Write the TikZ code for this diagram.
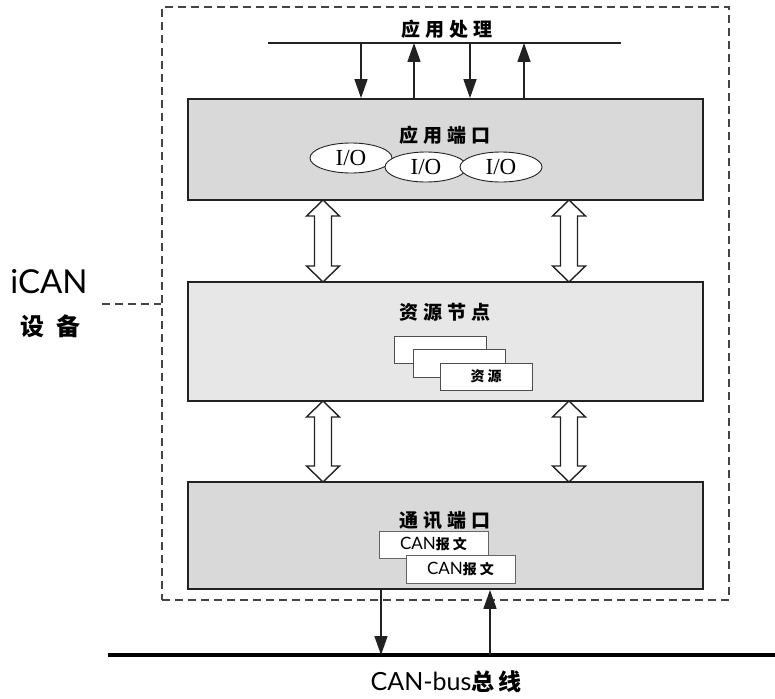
\documentclass[tikz,border=0pt]{standalone}
\usepackage{fontspec}
\setmainfont{Liberation Serif}
\newfontfamily\cjk{Noto Sans CJK SC}
\newfontfamily\lat{Lato}
\usetikzlibrary{arrows.meta,shapes.geometric}
\definecolor{boxA}{HTML}{D9D9D9}
\definecolor{boxB}{HTML}{E7E7E7}
\definecolor{lineC}{HTML}{222222}
\definecolor{dashC}{HTML}{444444}
\newcommand\gp{\hspace{5pt}}
\newcommand\dblarr[3]{%
  \draw[dblar] (#1,#2) -- ++(16.5,16) -- ++(-8,0) -- (#1+8.5,#3-16) -- ++(8,0)
    -- (#1,#3) -- ++(-16.5,-16) -- ++(8,0) -- (#1-8.5,#2+16) -- ++(-8,0) -- cycle;}
\begin{document}
\begin{tikzpicture}[x=1pt,y=-1pt,
  layer/.style={draw=lineC, line width=1.8pt, minimum width=515pt, inner sep=0pt, rectangle},
  ttl/.style={font=\cjk\bfseries\fontsize{19}{21}\selectfont, inner sep=0pt},
  io/.style={draw=lineC, fill=white, ellipse, line width=0.9pt, minimum width=82pt, minimum height=30pt, inner sep=0pt, font=\fontsize{23}{25}\selectfont},
  resbox/.style={draw=lineC!80, fill=white, line width=1pt, minimum width=92pt, minimum height=27pt, inner sep=0pt},
  canbox/.style={draw=lineC!70, fill=white, line width=1pt, minimum width=109pt, minimum height=27pt, inner sep=0pt},
  arr/.style={line width=1.6pt, draw=lineC, -{Triangle[length=19pt,width=13pt]}},
  dblar/.style={draw=lineC, fill=white, line width=1.4pt, line join=miter},
  dsh/.style={draw=dashC, line width=1.3pt, dash pattern=on 8pt off 5pt},
  outerbox/.style={dsh, minimum width=567pt, minimum height=593pt, inner sep=0pt, rectangle}
]
\useasboundingbox (0,0) rectangle (775,698);

% outer dashed device box
\node[outerbox] (outer) at (445.5,303.5) {};

% label iCAN device
\node[inner sep=0pt, font=\lat\fontsize{33}{36}\selectfont] (ican) at (49,282) {iCAN};
\node[inner sep=0pt, font=\cjk\bfseries\fontsize{24}{26}\selectfont] (dev) at (50,326) {设\hspace{12pt}备};
\coordinate (d1) at (102,304);
\draw[dsh] (d1) -- (d1 -| outer.west);

% layers
\node[layer, fill=boxA, minimum height=101pt] (b1) at (445.5,149.5) {};
\node[layer, fill=boxB, minimum height=119pt] (b2) at (445.5,341.5) {};
\node[layer, fill=boxA, minimum height=107pt] (b3) at (445.5,535.5) {};

% application processing line
\coordinate (l1) at (268,43);
\coordinate (l2) at (621,43);
\draw[line width=1.6pt, draw=lineC] (l1) -- (l2);
\node[ttl] (app) at (447,29) {应\gp 用\gp 处\gp 理};
\coordinate (p1) at (361,43);
\coordinate (p2) at (414,43);
\coordinate (p3) at (470,43);
\coordinate (p4) at (524,43);
\draw[arr] (p1) -- (p1 |- b1.north);
\draw[arr] (p2 |- b1.north) -- (p2);
\draw[arr] (p3) -- (p3 |- b1.north);
\draw[arr] (p4 |- b1.north) -- (p4);

% layer 1 content
\node[ttl] (t1) at (445,135) {应\gp 用\gp 端\gp 口};
\node[io] (e1) at (351,158) {I/O};
\node[io] (e2) at (426,167) {I/O};
\node[io] (e3) at (501,167) {I/O};

% layer 2 content
\node[ttl] (t2) at (445,312) {资\gp 源\gp 节\gp 点};
\node[resbox] (r1) at (440,349.5) {};
\node[resbox, minimum height=28pt] (r2) at (459,363) {};
\node[resbox, font=\cjk\bfseries\fontsize{14}{16}\selectfont] (r3) at (486,376.5) {资\hspace{3pt}源};

% layer 3 content
\node[ttl] (t3) at (445,520) {通\gp 讯\gp 端\gp 口};
\node[canbox] (c1) at (433.5,544.5) {\lat\fontsize{17}{19}\selectfont CAN\cjk\bfseries\fontsize{14}{16}\selectfont 报\hspace{3pt}文};
\node[canbox, minimum height=28pt] (c2) at (460.5,569) {\lat\fontsize{17}{19}\selectfont CAN\cjk\bfseries\fontsize{14}{16}\selectfont 报\hspace{3pt}文};

% double arrows
\dblarr{323}{200}{282}
\dblarr{569}{200}{282}
\dblarr{323}{401}{482}
\dblarr{569}{401}{482}

% CAN bus
\coordinate (busL) at (108,655);
\coordinate (busR) at (775,655);
\draw[line width=3.5pt, draw=black] (busL) -- (busR);
\coordinate (q1) at (381,655);
\coordinate (q2) at (490,655);
\draw[arr] (q1 |- b3.south) -- (q1);
\draw[arr] (q2) -- (q2 |- b3.south);
\node[inner sep=0pt, anchor=base] (bus) at (446,690) {\lat\fontsize{25}{28}\selectfont CAN-bus\cjk\bfseries\fontsize{23}{26}\selectfont 总\hspace{4pt}线};
\end{tikzpicture}
\end{document}
